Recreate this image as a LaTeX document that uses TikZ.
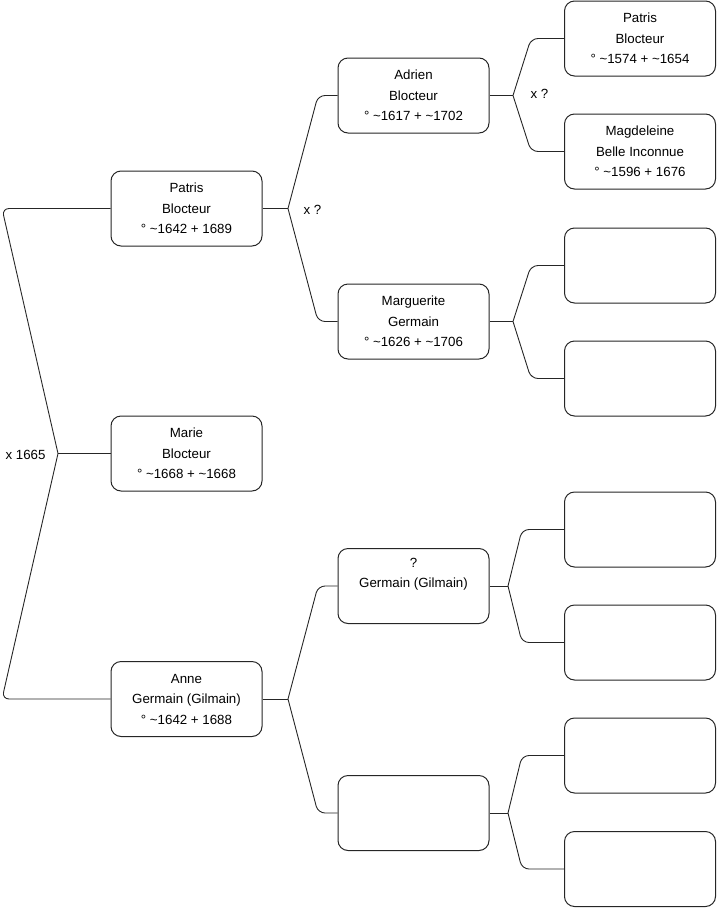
\documentclass[tikz,border=0pt]{standalone}
\usepackage{fontspec}
\setmainfont{Liberation Sans}
\usetikzlibrary{positioning,calc}

\begin{document}
\begin{tikzpicture}[
  x=1pt, y=-1pt,
  font=\fontsize{13.3}{20.5}\selectfont,
  person/.style={draw=black!85, line width=1pt, rounded corners=10pt, align=center, minimum width=151pt, minimum height=75pt, fill=white},
  link/.style={draw=black!85, line width=0.9pt, rounded corners=7pt, line join=round},
  note/.style={align=center}
]
\useasboundingbox (0,0) rectangle (716,908);

% generation 1
\node[person] (patris) at (186.5,208.5) {Patris\\Blocteur\\° \textasciitilde1642 + 1689};
\node[person] (marie) at (186.5,453.5) {Marie\\Blocteur\\° \textasciitilde1668 + \textasciitilde1668};
\node[person] (anne) at (186.5,699) {Anne\\Germain (Gilmain)\\° \textasciitilde1642 + 1688};

% generation 2
\node[person] (adrien) at (413.5,95.5) {Adrien\\Blocteur\\° \textasciitilde1617 + \textasciitilde1702};
\node[person] (marguerite) at (413.5,321.5) {Marguerite\\Germain\\° \textasciitilde1626 + \textasciitilde1706};
\node[person] (germain) at (413.5,586) {?\\Germain (Gilmain)\\\strut};
\node[person] (anneb) at (413.5,813) {};

% generation 3
\node[person] (patrisb) at (640,38.5) {Patris\\Blocteur\\° \textasciitilde1574 + \textasciitilde1654};
\node[person] (magdeleine) at (640,151.5) {Magdeleine\\Belle Inconnue\\° \textasciitilde1596 + 1676};
\node[person] (margf) at (640,265.5) {};
\node[person] (margm) at (640,378.5) {};
\node[person] (germf) at (640,529.5) {};
\node[person] (germm) at (640,642.5) {};
\node[person] (annef) at (640,755.5) {};
\node[person] (annem) at (640,869) {};

% forks
\coordinate (f0) at (58,453.5);
\coordinate (c0) at (2,0);
\coordinate (f1) at (288,208.5);
\coordinate (c1) at (318,0);
\coordinate (f2) at (288,699);
\coordinate (f3) at (513,95.5);
\coordinate (f4) at (513,321.5);
\coordinate (c3) at (531,0);
\coordinate (f5) at (508,586);
\coordinate (f6) at (508,813);
\coordinate (c5) at (522,0);

% couple of generation 1
\draw[link] (patris.west) -- (patris.west -| c0) -- (f0);
\draw[link] (f0) -- (anne.west -| c0) -- (anne.west);
\draw[link] (f0) -- (marie.west);
\node[note, left=9pt of f0, yshift=-1pt] {x 1665};

% parents of Patris
\draw[link] (patris.east) -- (f1);
\draw[link] (f1) -- (adrien.west -| c1) -- (adrien.west);
\draw[link] (f1) -- (marguerite.west -| c1) -- (marguerite.west);
\node[note, right=12pt of f1, yshift=-1pt] {x ?};

% parents of Anne
\draw[link] (anne.east) -- (f2);
\draw[link] (f2) -- (germain.west -| c1) -- (germain.west);
\draw[link] (f2) -- (anneb.west -| c1) -- (anneb.west);

% parents of Adrien
\draw[link] (adrien.east) -- (f3);
\draw[link] (f3) -- (patrisb.west -| c3) -- (patrisb.west);
\draw[link] (f3) -- (magdeleine.west -| c3) -- (magdeleine.west);
\node[note, right=14pt of f3, yshift=2pt] {x ?};

% parents of Marguerite
\draw[link] (marguerite.east) -- (f4);
\draw[link] (f4) -- (margf.west -| c3) -- (margf.west);
\draw[link] (f4) -- (margm.west -| c3) -- (margm.west);

% parents of the Germain side
\draw[link] (germain.east) -- (f5);
\draw[link] (f5) -- (germf.west -| c5) -- (germf.west);
\draw[link] (f5) -- (germm.west -| c5) -- (germm.west);
\draw[link] (anneb.east) -- (f6);
\draw[link] (f6) -- (annef.west -| c5) -- (annef.west);
\draw[link] (f6) -- (annem.west -| c5) -- (annem.west);

\end{tikzpicture}
\end{document}
